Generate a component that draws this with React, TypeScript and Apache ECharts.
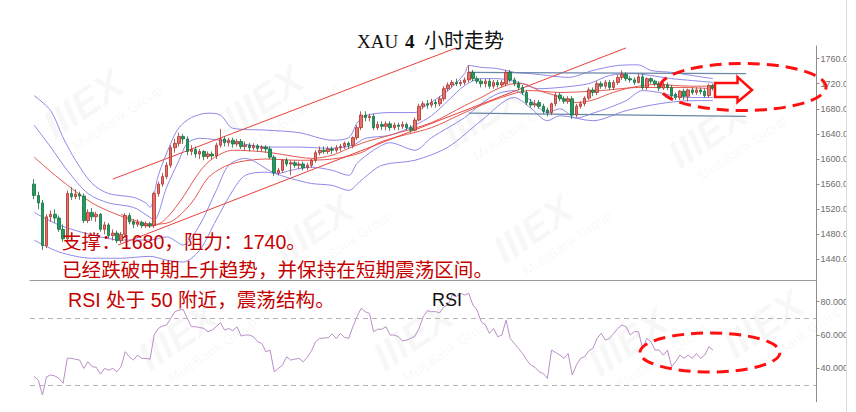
import React, { useEffect, useRef } from 'react';
import * as echarts from 'echarts';

// ---- data (candle index on x) ----
// candles: [open, close, low, high]
const candles: number[][] = [
  [1560, 1542, 1536, 1568], [1542, 1530, 1520, 1548], [1530, 1462, 1455, 1535], [1462, 1508, 1458, 1512],
  [1508, 1512, 1500, 1518], [1512, 1506, 1498, 1520], [1506, 1488, 1484, 1510], [1488, 1473, 1468, 1496],
  [1473, 1545, 1468, 1550], [1545, 1540, 1535, 1555], [1540, 1544, 1536, 1552], [1544, 1541, 1535, 1548],
  [1541, 1502, 1498, 1545], [1502, 1515, 1498, 1520], [1515, 1508, 1502, 1522], [1508, 1512, 1500, 1516],
  [1512, 1488, 1484, 1514], [1488, 1495, 1480, 1500], [1495, 1478, 1474, 1498], [1478, 1482, 1470, 1488],
  [1482, 1470, 1466, 1486], [1470, 1480, 1466, 1484], [1480, 1510, 1478, 1514], [1510, 1500, 1496, 1514],
  [1500, 1496, 1490, 1504], [1496, 1499, 1492, 1504], [1499, 1494, 1490, 1502], [1494, 1497, 1490, 1501],
  [1497, 1494, 1490, 1500], [1494, 1545, 1490, 1548], [1545, 1560, 1540, 1564], [1560, 1572, 1556, 1578],
  [1572, 1590, 1568, 1595], [1590, 1618, 1586, 1622], [1618, 1625, 1610, 1632], [1625, 1636, 1620, 1642],
  [1636, 1632, 1624, 1640], [1632, 1612, 1606, 1636], [1612, 1615, 1606, 1622], [1615, 1608, 1602, 1620],
  [1608, 1612, 1600, 1616], [1612, 1604, 1598, 1614], [1604, 1608, 1600, 1612], [1608, 1605, 1600, 1612],
  [1605, 1622, 1600, 1626], [1622, 1632, 1618, 1648], [1632, 1626, 1620, 1636], [1626, 1630, 1620, 1634],
  [1630, 1624, 1618, 1634], [1624, 1628, 1620, 1632], [1628, 1620, 1616, 1632], [1620, 1622, 1614, 1628],
  [1622, 1618, 1612, 1626], [1618, 1621, 1614, 1625], [1621, 1617, 1612, 1624], [1617, 1619, 1612, 1622],
  [1619, 1616, 1610, 1622], [1616, 1603, 1600, 1620], [1603, 1578, 1573, 1606], [1578, 1582, 1574, 1586],
  [1582, 1598, 1578, 1600], [1598, 1592, 1588, 1602], [1592, 1594, 1574, 1598], [1594, 1590, 1586, 1598],
  [1590, 1592, 1584, 1596], [1592, 1586, 1582, 1596], [1586, 1590, 1582, 1594], [1590, 1598, 1586, 1600],
  [1598, 1610, 1594, 1614], [1610, 1614, 1606, 1620], [1614, 1612, 1608, 1620], [1612, 1616, 1608, 1620],
  [1616, 1614, 1608, 1620], [1614, 1618, 1610, 1622], [1618, 1620, 1612, 1624], [1620, 1625, 1616, 1628],
  [1625, 1622, 1617, 1628], [1622, 1634, 1617, 1636], [1634, 1650, 1630, 1654], [1650, 1670, 1646, 1676],
  [1670, 1666, 1660, 1676], [1666, 1668, 1660, 1672], [1668, 1650, 1646, 1672], [1650, 1655, 1646, 1660],
  [1655, 1652, 1646, 1660], [1652, 1656, 1646, 1660], [1656, 1650, 1645, 1660], [1650, 1654, 1646, 1658],
  [1654, 1652, 1646, 1658], [1652, 1655, 1648, 1660], [1655, 1650, 1646, 1658], [1650, 1646, 1642, 1654],
  [1646, 1662, 1644, 1666], [1662, 1684, 1660, 1688], [1684, 1688, 1680, 1692], [1688, 1686, 1680, 1694],
  [1686, 1690, 1682, 1696], [1690, 1688, 1682, 1694], [1688, 1696, 1684, 1700], [1696, 1712, 1692, 1716],
  [1712, 1718, 1708, 1722], [1718, 1722, 1714, 1726], [1722, 1720, 1716, 1728], [1720, 1722, 1716, 1726],
  [1722, 1726, 1718, 1730], [1726, 1738, 1722, 1749], [1738, 1728, 1724, 1742], [1728, 1724, 1720, 1732],
  [1724, 1720, 1714, 1728], [1720, 1724, 1714, 1728], [1724, 1716, 1712, 1728], [1716, 1722, 1712, 1726],
  [1722, 1718, 1714, 1726], [1718, 1722, 1714, 1726], [1720, 1738, 1716, 1742], [1738, 1726, 1722, 1742],
  [1726, 1720, 1716, 1730], [1720, 1714, 1710, 1724], [1714, 1706, 1702, 1718], [1706, 1690, 1686, 1710],
  [1690, 1686, 1682, 1696], [1686, 1688, 1682, 1694], [1690, 1684, 1680, 1694], [1684, 1676, 1672, 1688],
  [1678, 1674, 1668, 1682], [1674, 1688, 1670, 1690], [1688, 1702, 1684, 1706], [1702, 1696, 1692, 1706],
  [1696, 1692, 1688, 1700], [1692, 1696, 1688, 1700], [1696, 1670, 1664, 1700], [1670, 1684, 1666, 1688],
  [1684, 1688, 1680, 1692], [1688, 1697, 1684, 1700], [1697, 1710, 1694, 1714], [1710, 1706, 1700, 1714],
  [1706, 1720, 1702, 1724], [1720, 1716, 1712, 1724], [1716, 1722, 1712, 1726], [1722, 1714, 1710, 1726],
  [1714, 1722, 1710, 1726], [1722, 1730, 1718, 1734], [1730, 1735, 1726, 1741], [1735, 1728, 1724, 1738],
  [1728, 1726, 1722, 1732], [1726, 1722, 1718, 1730], [1722, 1731, 1720, 1736], [1731, 1714, 1710, 1736],
  [1714, 1728, 1710, 1730], [1728, 1724, 1720, 1730], [1724, 1720, 1716, 1726], [1720, 1713, 1708, 1724],
  [1713, 1718, 1710, 1722], [1718, 1714, 1710, 1722], [1714, 1701, 1697, 1718], [1703, 1698, 1694, 1706],
  [1698, 1708, 1694, 1710], [1708, 1700, 1694, 1712], [1700, 1710, 1692, 1712], [1710, 1706, 1702, 1714],
  [1706, 1710, 1702, 1714], [1710, 1707, 1703, 1714], [1708, 1701, 1698, 1712], [1701, 1717, 1698, 1720],
  [1717, 1713, 1709, 1720],
];

// band / average lines: [candle index, price]
const upperOuter: number[][] = [
  [0, 1701], [4, 1677], [7, 1634], [10, 1598], [14, 1561], [18, 1545], [24, 1539], [27, 1530], [28, 1523],
  [30, 1574], [33, 1625], [35, 1650], [38, 1666], [42, 1673], [45, 1670], [48, 1649], [56, 1646], [64, 1642],
  [72, 1630], [76, 1634], [78, 1657], [80, 1669], [86, 1674], [92, 1674], [94, 1682], [100, 1709], [104, 1736],
  [105, 1749], [108, 1746], [112, 1744], [116, 1738], [120, 1736], [124, 1733], [129, 1730], [135, 1741],
  [141, 1749], [146, 1750], [149, 1741], [154, 1738], [159, 1733], [164, 1728],
];
const upperInner: number[][] = [
  [0, 1654], [4, 1619], [8, 1582], [13, 1545], [18, 1530], [24, 1523], [28, 1507], [29, 1503], [32, 1555],
  [35, 1598], [37, 1625], [40, 1633], [48, 1627], [56, 1619], [64, 1619], [72, 1617], [77, 1622], [80, 1633],
  [86, 1638], [92, 1654], [96, 1669], [100, 1693], [104, 1717], [108, 1728], [112, 1728], [117, 1722],
  [122, 1712], [127, 1714], [134, 1720], [139, 1733], [145, 1736], [149, 1733], [154, 1728], [159, 1725],
  [164, 1722],
];
const middleFast: number[][] = [
  [0, 1603], [6, 1569], [14, 1530], [21, 1509], [28, 1493], [31, 1500], [35, 1530], [40, 1580], [43, 1600],
  [48, 1614], [56, 1611], [64, 1603], [67, 1601], [72, 1606], [76, 1617], [80, 1627], [86, 1638], [96, 1658],
  [104, 1685], [108, 1698], [112, 1712], [116, 1720], [118, 1720], [122, 1709], [126, 1701], [131, 1690],
  [135, 1694], [139, 1704], [143, 1712], [147, 1717], [151, 1719], [155, 1717], [159, 1716], [164, 1716],
];
const middleSlow: number[][] = [
  [21, 1512], [28, 1496], [33, 1500], [38, 1530], [42, 1570], [46, 1588], [50, 1596], [56, 1600], [64, 1598],
  [72, 1600], [79, 1610], [84, 1628], [96, 1650], [104, 1674], [112, 1696], [120, 1709], [127, 1706],
  [137, 1709], [146, 1714], [156, 1714], [164, 1712],
];
const lowerInner: number[][] = [
  [0, 1515], [6, 1495], [14, 1479], [21, 1471], [28, 1471], [32, 1476], [36, 1463], [40, 1495], [44, 1550],
  [47, 1590], [51, 1601], [59, 1577], [62, 1582], [67, 1587], [72, 1582], [76, 1574], [78, 1593], [82, 1614],
  [86, 1626], [92, 1614], [96, 1634], [104, 1666], [108, 1688], [112, 1704], [116, 1709], [120, 1693],
  [124, 1674], [127, 1680], [131, 1665], [135, 1673], [139, 1682], [143, 1693], [147, 1709], [151, 1706],
  [154, 1701], [159, 1698], [164, 1698],
];
const lowerOuter: number[][] = [
  [0, 1471], [6, 1452], [14, 1442], [21, 1442], [28, 1445], [32, 1439], [36, 1436], [40, 1455], [44, 1503],
  [48, 1550], [51, 1574], [56, 1579], [62, 1569], [67, 1561], [72, 1558], [76, 1550], [79, 1566], [84, 1590],
  [92, 1598], [100, 1619], [108, 1661], [116, 1698], [120, 1681], [124, 1661], [127, 1669], [135, 1661],
  [143, 1677], [151, 1688], [159, 1693], [164, 1693],
];

// trend lines and range lines
const channelUpper: number[][] = [[19, 1568], [102, 1777]];
const channelLower: number[][] = [[20.3, 1463], [143, 1777]];
const rangeTop: number[][] = [[105, 1738], [172, 1736]];
const rangeBottom: number[][] = [[105, 1673], [172, 1668]];

// RSI: [candle index, value]
const rsi: number[][] = [
  [0, 35.2], [1, 33.1], [2, 24.1], [3, 35], [4, 36.1], [5, 35.5], [6, 34], [7, 31.1], [8, 46.1], [9, 46.1],
  [10, 45.5], [11, 45], [12, 40], [13, 44], [14, 41], [15, 40.7], [16, 36.6], [17, 40], [18, 39], [19, 40],
  [20, 38], [21, 41], [22, 50], [23, 47], [24, 45], [25, 48], [26, 46], [27, 46], [28, 45.5], [29, 60],
  [30, 64], [31, 65.4], [32, 66], [33, 70], [34, 74], [35, 75], [36, 75.4], [37, 70], [38, 65], [39, 65],
  [40, 64.5], [41, 64], [42, 62], [43, 63], [44, 65], [45, 67.4], [46, 63], [47, 64], [48, 62.6], [49, 65],
  [50, 59.4], [51, 60], [52, 60], [53, 59], [54, 56], [55, 55], [56, 50], [57, 51], [58, 38], [59, 40],
  [60, 42], [61, 47], [62, 45], [63, 45.6], [64, 46], [65, 44], [66, 46.7], [67, 50.6], [68, 56], [69, 58],
  [70, 58.2], [71, 58.4], [72, 60.6], [73, 58], [74, 61], [75, 58.6], [76, 58], [77, 65], [78, 71], [79, 76],
  [80, 74], [81, 73], [82, 62], [83, 63.5], [84, 63.5], [85, 65], [86, 60], [87, 60], [88, 59], [89, 56.5],
  [90, 57], [91, 58], [92, 59.4], [93, 64], [94, 71], [95, 74.6], [96, 74], [97, 74], [98, 73.4], [99, 77],
  [100, 78], [101, 84], [102, 83], [103, 85], [104, 84], [105, 85], [106, 78], [107, 75], [108, 68], [109, 66],
  [110, 61], [111, 64], [112, 59], [113, 60], [114, 69], [115, 58], [116, 55], [117, 52], [118, 49], [119, 45],
  [120, 42], [121, 40.7], [122, 38], [123, 37], [124, 34], [125, 51], [126, 49.5], [127, 48], [128, 46],
  [129, 49], [130, 36], [131, 42], [132, 46], [133, 47], [134, 50.6], [135, 52], [136, 58], [137, 61],
  [138, 57], [139, 58], [140, 61], [141, 64], [142, 66], [143, 65], [144, 60], [145, 62], [146, 62], [147, 52],
  [148, 58], [149, 56], [150, 51], [151, 51], [152, 48], [153, 51], [154, 41], [155, 44], [156, 48], [157, 46],
  [158, 48], [159, 46], [160, 49], [161, 46], [162, 48], [163, 53], [164, 51],
];

const rsiLevels = [70, 30];

const titleMain = 'XAU';
const titleNum = '4';
const titleCn = '小时走势';
const note1 = '支撑：1680，阻力：1740。';
const note2 = '已经跌破中期上升趋势，并保持在短期震荡区间。';
const note3 = 'RSI 处于 50 附近，震荡结构。';
const rsiTitle = 'RSI';

const watermarkSpots: number[][] = [
  [55, 140], [235, 135], [455, 150], [680, 170], [285, 265], [505, 265],
  [150, 372], [385, 372], [600, 378], [735, 360],
];

const SANS = '"Liberation Sans", Arial, "Noto Sans CJK SC", sans-serif';
const SERIF = '"Liberation Serif", "DejaVu Serif", "Noto Sans CJK SC", serif';

export default function App() {
  const ref = useRef<HTMLDivElement>(null);

  useEffect(() => {
    if (!ref.current) return;
    const chart = echarts.init(ref.current, null, { renderer: 'svg' });

    const bandLine = (data: number[][], color: string) => ({
      type: 'line',
      xAxisIndex: 0,
      yAxisIndex: 0,
      data,
      smooth: 0.3,
      symbol: 'none',
      showSymbol: false,
      silent: true,
      z: 3,
      lineStyle: { color, width: 1 },
    });
    const straight = (data: number[][], color: string, width: number) => ({
      type: 'line',
      xAxisIndex: 0,
      yAxisIndex: 0,
      data,
      symbol: 'none',
      showSymbol: false,
      silent: true,
      z: 4,
      lineStyle: { color, width },
    });

    const purple = '#9088e6';
    const maRed = '#e4584f';

    const wm: any[] = watermarkSpots.map(([x, y]) => ({
      type: 'group',
      x,
      y,
      rotation: 0.6,
      silent: true,
      z: 0,
      children: [
        {
          type: 'text',
          x: 0,
          y: -34,
          style: {
            text: 'IIIEX',
            fill: 'rgba(0,0,0,0.045)',
            fontSize: 40,
            fontWeight: 'bold',
            fontStyle: 'italic',
            fontFamily: SANS,
          },
        },
        {
          type: 'text',
          x: 12,
          y: 10,
          style: {
            text: 'MultiBank Group',
            fill: 'rgba(0,0,0,0.045)',
            fontSize: 14,
            fontFamily: SANS,
          },
        },
      ],
    }));

    const txt = (text: string, x: number, y: number, fill: string, fontSize: number, family: string, weight = 'normal') => ({
      type: 'text',
      x,
      y,
      z: 80,
      silent: true,
      style: {
        text,
        fill,
        fontSize,
        fontFamily: family,
        fontWeight: weight,
        align: 'left',
        verticalAlign: 'middle',
        textAlign: 'left',
        textVerticalAlign: 'middle',
      },
    });

    const option: any = {
      animation: false,
      backgroundColor: '#ffffff',
      grid: [
        { left: 30, right: 39, top: 46, height: 238.6 },
        { left: 30, right: 39, top: 280, height: 121.8 },
      ],
      xAxis: [
        { type: 'value', gridIndex: 0, min: -1, max: 189, show: false },
        {
          type: 'value',
          gridIndex: 1,
          min: -1,
          max: 189,
          position: 'top',
          axisLine: { show: true, onZero: false, lineStyle: { color: '#9a9a9a', width: 1 } },
          axisTick: { show: false },
          axisLabel: { show: false },
          splitLine: { show: false },
        },
      ],
      yAxis: [
        {
          type: 'value',
          gridIndex: 0,
          position: 'right',
          min: 1400,
          max: 1780,
          interval: 40,
          axisLine: { show: true, onZero: false, lineStyle: { color: '#8c8c8c' } },
          axisTick: { show: true, length: 3, lineStyle: { color: '#8c8c8c' } },
          axisLabel: {
            color: '#6e6e6e',
            fontSize: 9,
            margin: 4,
            fontFamily: SANS,
            showMinLabel: false,
            showMaxLabel: false,
            formatter: (v: number) => v.toFixed(2),
          },
          splitLine: { show: false },
        },
        {
          type: 'value',
          gridIndex: 1,
          position: 'right',
          min: 20,
          max: 93,
          interval: 20,
          axisLine: { show: true, onZero: false, lineStyle: { color: '#8c8c8c' } },
          axisTick: { show: true, length: 3, lineStyle: { color: '#8c8c8c' } },
          axisLabel: {
            color: '#6e6e6e',
            fontSize: 9,
            margin: 4,
            fontFamily: SANS,
            showMinLabel: false,
            showMaxLabel: false,
            formatter: (v: number) => v.toFixed(4),
          },
          splitLine: { show: false },
        },
      ],
      series: [
        bandLine(upperOuter, purple),
        bandLine(upperInner, purple),
        bandLine(lowerInner, purple),
        bandLine(lowerOuter, purple),
        bandLine(middleSlow, maRed),
        bandLine(middleFast, maRed),
        straight(channelUpper, '#e8413a', 1),
        straight(channelLower, '#e8413a', 1),
        straight(rangeTop, '#6a86a8', 1.3),
        straight(rangeBottom, '#6a86a8', 1.3),
        {
          type: 'candlestick',
          xAxisIndex: 0,
          yAxisIndex: 0,
          data: candles.map((c, i) => [i, c[0], c[1], c[2], c[3]]),
          encode: { x: 0, y: [1, 2, 3, 4] },
          barWidth: 3,
          z: 6,
          silent: true,
          itemStyle: {
            color: '#e9706a',
            color0: '#1f9d5c',
            borderColor: '#a8322c',
            borderColor0: '#156f41',
            borderWidth: 0.8,
          },
        },
        {
          type: 'line',
          xAxisIndex: 1,
          yAxisIndex: 1,
          data: rsi,
          symbol: 'none',
          showSymbol: false,
          silent: true,
          z: 4,
          lineStyle: { color: '#b98fc4', width: 1 },
          markLine: {
            silent: true,
            symbol: 'none',
            label: { show: false },
            lineStyle: { color: '#b4b4b4', type: [5, 4], width: 1 },
            data: rsiLevels.map((v) => ({ yAxis: v })),
          },
        },
      ],
      graphic: [
        ...wm,
        txt(titleMain, 357, 41, '#111', 19, SERIF),
        txt(titleNum, 405, 41, '#111', 19, SERIF, 'bold'),
        txt(titleCn, 424, 41, '#111', 20, SERIF),
        txt(note1, 62, 242, '#c40000', 19.6, SANS),
        txt(note2, 62, 270, '#c40000', 19.6, SANS),
        txt(note3, 68, 300, '#c40000', 19.6, SANS),
        txt(rsiTitle, 432, 300, '#111', 18, SANS),
        {
          type: 'ellipse',
          z: 90,
          silent: true,
          shape: { cx: 743, cy: 87, rx: 83, ry: 23.5 },
          style: { fill: 'none', stroke: '#ff1010', lineWidth: 3, lineDash: [12, 7] },
        },
        {
          type: 'ellipse',
          z: 90,
          silent: true,
          shape: { cx: 710, cy: 352.5, rx: 70, ry: 19.5 },
          style: { fill: 'none', stroke: '#ff1010', lineWidth: 3, lineDash: [12, 7] },
        },
        {
          type: 'polygon',
          z: 91,
          silent: true,
          shape: {
            points: [[715, 83], [737.5, 83], [737.5, 77], [752, 90], [737.5, 102], [737.5, 97], [715, 97]],
          },
          style: { fill: '#ffffff', stroke: '#ff1010', lineWidth: 2.5 },
        },
        {
          type: 'rect',
          z: 100,
          silent: true,
          shape: { x: 847, y: 0, width: 9, height: 412 },
          style: { fill: '#ffffff' },
        },
        {
          type: 'line',
          z: 101,
          silent: true,
          shape: { x1: 846.5, y1: 0, x2: 846.5, y2: 412 },
          style: { stroke: '#dcdcdc', lineWidth: 1 },
        },
      ],
    };

    chart.setOption(option);
    return () => chart.dispose();
  }, []);

  return (
    <div
      ref={ref}
      style={{ position: 'fixed', left: 0, top: 0, width: 856, height: 412, background: '#fff' }}
    />
  );
}
